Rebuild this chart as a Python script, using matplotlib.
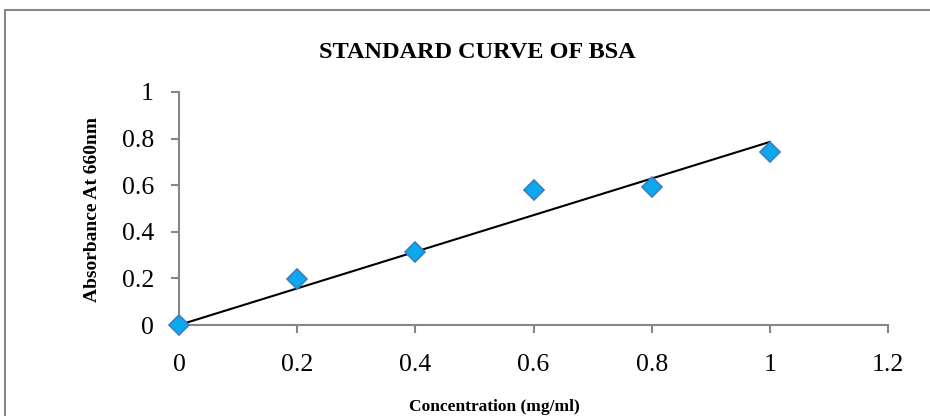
import matplotlib as mpl
mpl.use('Agg')
import matplotlib.pyplot as plt
import matplotlib.patches as mpatches
import numpy as np

# standard curve data
concentration = [0, 0.2, 0.4, 0.6, 0.8, 1.0]
absorbance = [0, 0.198, 0.313, 0.579, 0.593, 0.742]
x_ticks = [0, 0.2, 0.4, 0.6, 0.8, 1, 1.2]
y_ticks = [0, 0.2, 0.4, 0.6, 0.8, 1]

plt.rcParams['font.family'] = ['Liberation Serif', 'DejaVu Serif']

fig = plt.figure(figsize=(9.3, 4.16), dpi=100)
ax = fig.add_axes([179 / 930, 1 - 325 / 416, (888 - 179) / 930, (325 - 92) / 416])

# linear trendline forced through origin (Excel style)
x = np.array(concentration)
y = np.array(absorbance)
slope = np.sum(x * y) / np.sum(x * x)
ax.plot([x.min(), x.max()], [slope * x.min(), slope * x.max()], color='black', lw=1.5, zorder=2)

ax.plot(concentration, absorbance, linestyle='none', marker='D', markersize=10,
        markerfacecolor='#0BA9EE', markeredgecolor='#3B7CC4', markeredgewidth=1.2, zorder=3,
        clip_on=False)

ax.set_xlim(0, 1.2)
ax.set_ylim(0, 1)
ax.set_xticks(x_ticks)
ax.set_xticklabels(['0', '0.2', '0.4', '0.6', '0.8', '1', '1.2'])
ax.set_yticks(y_ticks)
ax.set_yticklabels(['0', '0.2', '0.4', '0.6', '0.8', '1'])

for s in ['top', 'right']:
    ax.spines[s].set_visible(False)
for s in ['left', 'bottom']:
    ax.spines[s].set_color('#868686')
    ax.spines[s].set_linewidth(1.5)

ax.tick_params(axis='x', direction='out', length=6, width=1.5, color='#868686',
               labelsize=18.5, pad=15)
ax.tick_params(axis='y', direction='out', length=6, width=1.5, color='#868686',
               labelsize=18.5, pad=12)

fig.text(477 / 930, 1 - 52 / 416, 'STANDARD CURVE OF BSA', ha='center', va='center',
         fontsize=17.5, fontweight='bold')
fig.text(494 / 930, 1 - 407 / 416, 'Concentration (mg/ml)', ha='center', va='center',
         fontsize=12.5, fontweight='bold')
fig.text(92 / 930, 1 - 209 / 416, 'Absorbance At 660nm', ha='center', va='center',
         rotation=90, fontsize=14, fontweight='bold')

# chart area border
border = mpatches.Rectangle((5 / 930, -0.2), 1.2, 1.2 - 10 / 416, transform=fig.transFigure,
                            fill=False, edgecolor='#888888', lw=1.5)
fig.patches.append(border)

plt.savefig('out.png', dpi=100)
plt.close()
